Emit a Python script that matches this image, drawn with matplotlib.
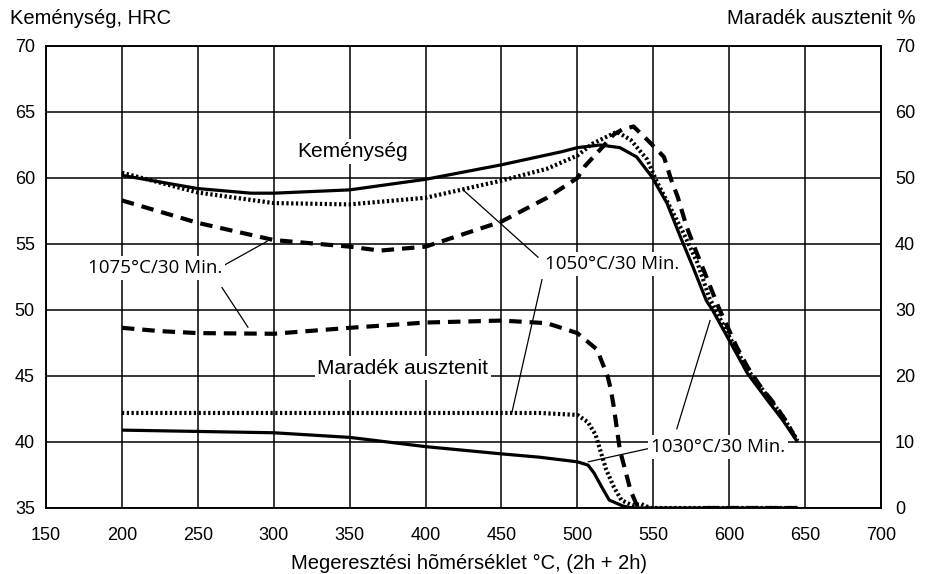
import matplotlib
matplotlib.use("Agg")
import matplotlib.pyplot as plt

# ---- data ----
# Hardness (HRC, left axis)
t_h1030 = [200, 250, 285, 300, 350, 400, 450, 490, 500, 515, 528, 539, 549, 559, 568, 576, 585, 589, 601, 612, 625, 635, 645]
h1030 = [60.2, 59.2, 58.85, 58.85, 59.1, 59.9, 61.0, 62.0, 62.3, 62.5, 62.3, 61.6, 60.1, 58.1, 55.5, 53.3, 50.7, 50.0, 47.5, 45.2, 43.2, 41.7, 40.0]

t_h1050 = [200, 250, 300, 350, 400, 450, 480, 500, 510, 526, 535, 546, 552, 561, 570, 579, 587, 600, 612, 625, 635, 645]
h1050 = [60.4, 58.9, 58.1, 58.0, 58.5, 59.8, 60.7, 61.7, 62.6, 63.5, 62.9, 61.4, 59.8, 57.8, 55.8, 53.6, 50.9, 48.0, 45.5, 43.5, 42.0, 40.1]

t_h1075 = [200, 250, 300, 350, 370, 400, 450, 480, 500, 505, 517, 524, 530, 537, 546, 557, 562, 566, 572, 578, 585, 593, 605, 612, 620, 629, 638, 645]
h1075 = [58.3, 56.6, 55.3, 54.8, 54.5, 54.8, 56.7, 58.5, 60.0, 60.9, 62.4, 63.3, 63.7, 63.9, 62.9, 61.6, 59.8, 58.6, 56.3, 54.5, 52.5, 50.2, 47.2, 45.7, 44.3, 43.0, 41.5, 40.0]

# Retained austenite (%, right axis)
t_a1030 = [200, 250, 300, 350, 400, 450, 475, 500, 507, 511, 516, 521, 530, 536, 645]
a1030 = [11.8, 11.6, 11.4, 10.7, 9.3, 8.2, 7.7, 7.0, 6.5, 5.3, 3.2, 1.2, 0.3, 0.0, 0.0]

t_a1050 = [200, 300, 400, 475, 500, 507, 512, 515, 519, 524, 529, 536, 542, 548, 645]
a1050 = [14.4, 14.4, 14.4, 14.4, 14.1, 13.0, 11.1, 8.8, 5.8, 3.2, 1.2, 0.4, 0.6, 0.0, 0.0]

t_a1075 = [200, 225, 250, 300, 350, 400, 450, 480, 500, 513, 520, 522, 524, 528, 535, 539, 554, 568, 581, 645]
a1075 = [27.3, 26.8, 26.5, 26.4, 27.3, 28.1, 28.4, 28.0, 26.5, 24.0, 19.9, 18.0, 15.3, 8.8, 2.7, 0.5, -0.6, -0.7, 0.0, 0.0]

x_ticks = [150, 200, 250, 300, 350, 400, 450, 500, 550, 600, 650, 700]
y_left_ticks = [35, 40, 45, 50, 55, 60, 65, 70]
y_right_ticks = [0, 10, 20, 30, 40, 50, 60, 70]

title_left = "Keménység, HRC"
title_right = "Maradék ausztenit %"
x_label = "Megeresztési hõmérséklet °C, (2h + 2h)"

# ---- figure ----
W, H = 926, 574
fig = plt.figure(figsize=(W / 100, H / 100), dpi=100)
ax = fig.add_axes([46 / W, 1 - 508 / H, (881 - 46) / W, (508 - 46) / H])
ax2 = ax.twinx()

tick_font = ['Liberation Sans', 'DejaVu Sans']
lab_font = ['Liberation Sans', 'DejaVu Sans']
num_font = ['Open Sans', 'DejaVu Sans']

ax.set_xlim(150, 700)
ax.set_ylim(35, 70)
ax2.set_ylim(0, 70)
ax.set_xticks(x_ticks)
ax.set_yticks(y_left_ticks)
ax2.set_yticks(y_right_ticks)
ax.grid(True, color='black', lw=1.1, zorder=0)
ax.set_axisbelow(True)
for a in (ax, ax2):
    for s in a.spines.values():
        s.set_linewidth(1.1)
ax.tick_params(axis='x', length=0, pad=14, labelsize=13)
ax.tick_params(axis='y', length=0, pad=8, labelsize=13)
ax2.tick_params(axis='y', length=0, pad=10, labelsize=13)
for lab in ax.get_xticklabels() + ax.get_yticklabels() + ax2.get_yticklabels():
    lab.set_family(tick_font)

fig.text(469 / W, 1 - 563 / H, x_label, family=tick_font, fontsize=14.5, ha='center', va='center')
fig.text(10 / W, 1 - 19 / H, title_left, family=tick_font, fontsize=14.5, ha='left', va='center')
fig.text(916 / W, 1 - 19 / H, title_right, family=tick_font, fontsize=14.5, ha='right', va='center')

solid_kw = dict(color='black', lw=2.3, solid_capstyle='butt', zorder=3)
dot_kw = dict(color='black', lw=3.0, dashes=(0.55, 0.6), dash_capstyle='butt', zorder=3)
dash_kw = dict(color='black', lw=3.0, dashes=(3.0, 1.9), dash_capstyle='butt', zorder=3)

ax.plot(t_h1030, h1030, **solid_kw)
ax.plot(t_h1050, h1050, **dot_kw)
ax.plot(t_h1075, h1075, **dash_kw)
ax2.plot(t_a1030, a1030, **solid_kw)
ax2.plot(t_a1050, a1050, **dot_kw)
ax2.plot(t_a1075, a1075, **dash_kw)
ax2.set_zorder(ax.get_zorder() + 1)
ax2.patch.set_visible(False)

box = dict(facecolor='white', edgecolor='none', pad=2)
ax2.text(352, (62.0 - 35) * 2, "Keménység", family=lab_font, fontsize=15,
         ha='center', va='center', bbox=box, zorder=6)
ax2.text(385, (45.6 - 35) * 2, "Maradék ausztenit", family=lab_font, fontsize=15,
         ha='center', va='center', bbox=box, zorder=6)
ax2.text(222, (53.2 - 35) * 2, "1075°C/30 Min.", family=num_font, fontsize=13.5,
         ha='center', va='center', bbox=box, zorder=6)
ax2.text(522.6, (53.5 - 35) * 2, "1050°C/30 Min.", family=num_font, fontsize=13.5,
         ha='center', va='center', bbox=box, zorder=6)
ax2.text(592.7, (39.6 - 35) * 2, "1030°C/30 Min.", family=num_font, fontsize=13.5,
         ha='center', va='center', bbox=box, zorder=6)

leaders = [
    ((265.9, 53.3), (295.6, 55.2)),
    ((265.9, 51.7), (283.0, 48.7)),
    ((474.1, 54.0), (424.7, 59.1)),
    ((476.7, 52.3), (457.0, 42.3)),
    ((546.8, 39.5), (507.2, 38.5)),
    ((565.5, 41.0), (587.4, 49.2)),
]
for (x0, y0), (x1, y1) in leaders:
    ax2.plot([x0, x1], [(y0 - 35) * 2, (y1 - 35) * 2], color='black', lw=0.9, zorder=5)

fig.savefig("out.png", dpi=100)
